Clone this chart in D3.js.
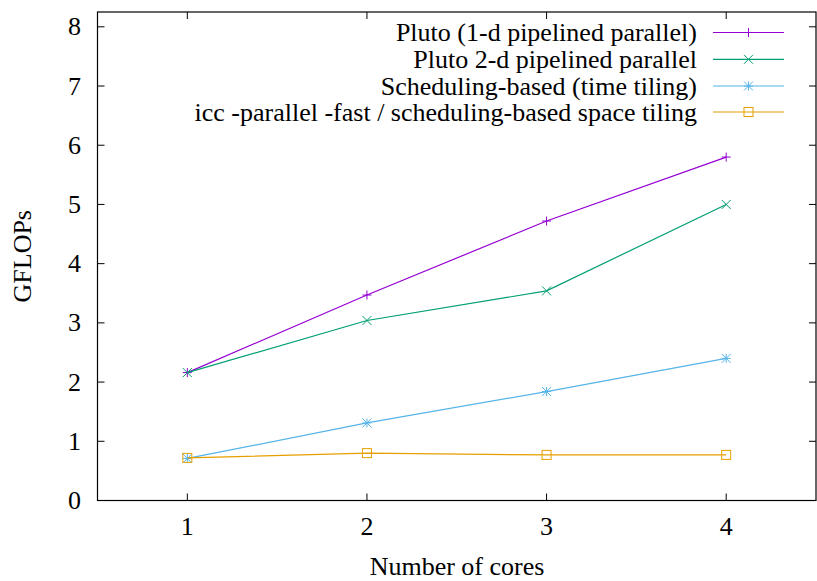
<!DOCTYPE html>
<html>
<head>
<meta charset="utf-8">
<script src="https://cdn.jsdelivr.net/npm/d3@7"></script>
<style>
  html, body { margin: 0; padding: 0; background: #fff; }
</style>
</head>
<body>
<svg id="chart" width="817" height="581" font-family="'Liberation Serif', 'Times New Roman', Times, serif"></svg>
<script>
// Cores on the x axis
const cores = [1, 2, 3, 4];
// GFLOPs per configuration
const pluto1d = [2.16, 3.47, 4.72, 5.80];
const pluto2d = [2.16, 3.04, 3.54, 5.00];
const schedTime = [0.71, 1.31, 1.84, 2.40];
const iccSpace = [0.72, 0.80, 0.77, 0.77];
// Tick labels
const xTicks = [1, 2, 3, 4];
const yTicks = [0, 1, 2, 3, 4, 5, 6, 7, 8];

const seriesNames = [
  "Pluto (1-d pipelined parallel)",
  "Pluto 2-d pipelined parallel",
  "Scheduling-based (time tiling)",
  "icc -parallel -fast / scheduling-based space tiling"
];
const seriesValues = [pluto1d, pluto2d, schedTime, iccSpace];
const seriesColors = ["#9400d3", "#009e73", "#56b4e9", "#e69f00"];
const seriesMarks = ["plus", "cross", "star", "square"];

const svg = d3.select("#chart");
const margin = { left: 97.5, right: 1, top: 12, bottom: 80.5 };
const W = 817, H = 581;
const x = d3.scaleLinear().domain([0.5, 4.5]).range([margin.left, W - margin.right]);
const y = d3.scaleLinear().domain([0, 8.25]).range([H - margin.bottom, margin.top]);

const tickLen = 7;
const fs = 26;

// Inward ticks on all four sides
const g = svg.append("g");
xTicks.forEach(t => {
  g.append("line").attr("x1", x(t)).attr("x2", x(t))
    .attr("y1", y(0)).attr("y2", y(0) - tickLen).attr("stroke", "#000");
  g.append("line").attr("x1", x(t)).attr("x2", x(t))
    .attr("y1", margin.top).attr("y2", margin.top + tickLen).attr("stroke", "#000");
  g.append("text").attr("x", x(t)).attr("y", y(0) + 34.5)
    .attr("text-anchor", "middle").attr("font-size", fs).text(t);
});
yTicks.forEach(t => {
  g.append("line").attr("x1", margin.left).attr("x2", margin.left + tickLen)
    .attr("y1", y(t)).attr("y2", y(t)).attr("stroke", "#000");
  g.append("line").attr("x1", W - margin.right).attr("x2", W - margin.right - tickLen)
    .attr("y1", y(t)).attr("y2", y(t)).attr("stroke", "#000");
  g.append("text").attr("x", margin.left - 16.5).attr("y", y(t) + 8.5)
    .attr("text-anchor", "end").attr("font-size", fs).text(t);
});

// Frame
svg.append("rect")
  .attr("x", margin.left).attr("y", margin.top)
  .attr("width", W - margin.right - margin.left)
  .attr("height", y(0) - margin.top)
  .attr("fill", "none").attr("stroke", "#000").attr("stroke-width", 1.2);

// Axis titles
svg.append("text").attr("x", 457).attr("y", 575)
  .attr("text-anchor", "middle").attr("font-size", fs).text("Number of cores");
svg.append("text")
  .attr("transform", `translate(31,${(margin.top + y(0)) / 2}) rotate(-90)`)
  .attr("text-anchor", "middle").attr("font-size", fs).text("GFLOPs");

function drawMark(sel, type, cx, cy, color) {
  const s = 4.5;
  if (type === "plus") {
    sel.append("path").attr("d", `M${cx - s},${cy}H${cx + s}M${cx},${cy - s}V${cy + s}`)
      .attr("stroke", color).attr("fill", "none");
  } else if (type === "cross") {
    sel.append("path").attr("d", `M${cx - s},${cy - s}L${cx + s},${cy + s}M${cx - s},${cy + s}L${cx + s},${cy - s}`)
      .attr("stroke", color).attr("fill", "none");
  } else if (type === "star") {
    sel.append("path").attr("d",
      `M${cx - s},${cy}H${cx + s}M${cx},${cy - s}V${cy + s}` +
      `M${cx - s},${cy - s}L${cx + s},${cy + s}M${cx - s},${cy + s}L${cx + s},${cy - s}`)
      .attr("stroke", color).attr("fill", "none");
  } else {
    sel.append("rect").attr("x", cx - s).attr("y", cy - s)
      .attr("width", 2 * s).attr("height", 2 * s)
      .attr("stroke", color).attr("fill", "none");
  }
}

const line = d3.line().x((d, i) => x(cores[i])).y(d => y(d));
const plot = svg.append("g");
seriesValues.forEach((vals, k) => {
  plot.append("path").datum(vals).attr("d", line)
    .attr("fill", "none").attr("stroke", seriesColors[k]).attr("stroke-width", 1.2);
  vals.forEach((v, i) => drawMark(plot, seriesMarks[k], x(cores[i]), y(v), seriesColors[k]));
});

// Legend
const legend = svg.append("g");
const rowY = [32.5, 59.3, 86, 112];
seriesNames.forEach((name, k) => {
  const ry = rowY[k];
  legend.append("text").attr("x", 697).attr("y", ry + 8.5)
    .attr("text-anchor", "end").attr("font-size", fs).attr("fill", "#000").text(name);
  legend.append("line").attr("x1", 713).attr("x2", 784)
    .attr("y1", ry).attr("y2", ry)
    .attr("stroke", seriesColors[k]).attr("stroke-width", 1.2);
  drawMark(legend, seriesMarks[k], 748.5, ry, seriesColors[k]);
});
</script>
</body>
</html>
